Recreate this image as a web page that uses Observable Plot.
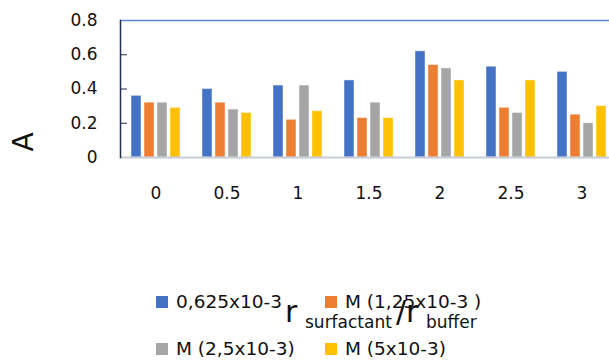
<!DOCTYPE html>
<html>
<head>
<meta charset="utf-8">
<script src="https://cdn.jsdelivr.net/npm/d3@7"></script>
<script src="https://cdn.jsdelivr.net/npm/@observablehq/plot@0.6"></script>
<style>
  html, body { margin: 0; padding: 0; background: #fff; overflow: hidden; }
  #wrap { position: relative; width: 609px; height: 360px; }
  #chart svg { overflow: visible; }
  .lg { position: absolute; font-family: "DejaVu Sans", sans-serif; font-size: 18.5px; color: #111; white-space: pre; line-height: 1; }
  .sw { position: absolute; width: 12px; height: 12px; }
  .xt { position: absolute; font-family: "DejaVu Sans", sans-serif; color: #111; white-space: pre; line-height: 1; }
</style>
</head>
<body>
<div id="wrap">
  <div id="chart"></div>
</div>
<script>
const groups = ["0", "0.5", "1", "1.5", "2", "2.5", "3"];
const series = ["0,625x10-3", "M (1,25x10-3 )", "M (2,5x10-3)", "M (5x10-3)"];
const colors = ["#4472C4", "#ED7D31", "#A5A5A5", "#FFC000"];
const s1 = [0.36, 0.40, 0.42, 0.45, 0.62, 0.53, 0.50];
const s2 = [0.32, 0.32, 0.22, 0.23, 0.54, 0.29, 0.25];
const s3 = [0.32, 0.28, 0.42, 0.32, 0.52, 0.26, 0.20];
const s4 = [0.29, 0.26, 0.27, 0.23, 0.45, 0.45, 0.30];
const yTicks = [0, 0.2, 0.4, 0.6, 0.8];

const allSeries = [s1, s2, s3, s4];
const data = [];
groups.forEach((g, i) => {
  series.forEach((s, j) => data.push({g, s, v: allSeries[j][i]}));
});

const chart = Plot.plot({
  width: 609,
  height: 360,
  marginLeft: 117,
  marginRight: -11,
  marginTop: 20,
  marginBottom: 203,
  style: {fontFamily: "DejaVu Sans, sans-serif", fontSize: "17px", color: "#111", background: "#fff"},
  fx: {domain: groups, padding: 0, axis: null, label: null},
  x: {domain: series, paddingInner: 0.2, paddingOuter: 0.65, axis: null},
  y: {domain: [0, 0.8], axis: null},
  color: {domain: series, range: colors},
  marks: [
    Plot.ruleY([0.8], {stroke: "#5B86D6", strokeWidth: 1.5}),
    Plot.barY(data, {fx: "g", x: "s", y: "v", fill: "s", stroke: "#fff", strokeOpacity: 0.45, strokeWidth: 1}),
    Plot.ruleY([0], {stroke: "#C5CCD8", strokeWidth: 2}),
    Plot.axisY(yTicks, {anchor: "left", tickSize: 0, tickPadding: 23, tickFormat: d => String(d), fontSize: 17, label: null}),
    Plot.axisY(yTicks.slice(1, 4), {anchor: "left", tickSize: 7, dx: 7, text: null, stroke: "#1F2D4A", label: null}),
    Plot.frame({anchor: "left", facetAnchor: "left", stroke: "#1F2D4A", strokeWidth: 1.5}),
    Plot.axisFx({anchor: "bottom", tickSize: 0, tickPadding: 29, fontSize: 17, label: null})
  ]
});
document.getElementById("chart").appendChild(chart);

// y-axis title
const wrap = document.getElementById("wrap");
const yt = document.createElement("div");
yt.className = "xt";
yt.textContent = "A";
yt.style.fontSize = "28px";
yt.style.left = "14px";
yt.style.top = "128px";
yt.style.transform = "rotate(-90deg)";
wrap.appendChild(yt);

// x-axis title (r surfactant / r buffer)
const xtParts = [
  {t: "r", size: 30, left: 285, top: 297},
  {t: "surfactant", size: 17, left: 305, top: 314},
  {t: "/r", size: 30, left: 396, top: 297},
  {t: "buffer", size: 17, left: 426, top: 314}
];
xtParts.forEach(p => {
  const d = document.createElement("div");
  d.className = "xt";
  d.textContent = p.t;
  d.style.fontSize = p.size + "px";
  d.style.left = p.left + "px";
  d.style.top = p.top + "px";
  wrap.appendChild(d);
});

// legend (2 rows x 2 columns)
const legendPos = [[156, 296], [325, 296], [156, 343], [325, 343]];
series.forEach((s, i) => {
  const [lx, ly] = legendPos[i];
  const sw = document.createElement("div");
  sw.className = "sw";
  sw.style.background = colors[i];
  sw.style.left = lx + "px";
  sw.style.top = ly + "px";
  wrap.appendChild(sw);
  const t = document.createElement("div");
  t.className = "lg";
  t.textContent = s;
  t.style.left = (lx + 20) + "px";
  t.style.top = (ly - 3) + "px";
  wrap.appendChild(t);
});
</script>
</body>
</html>
